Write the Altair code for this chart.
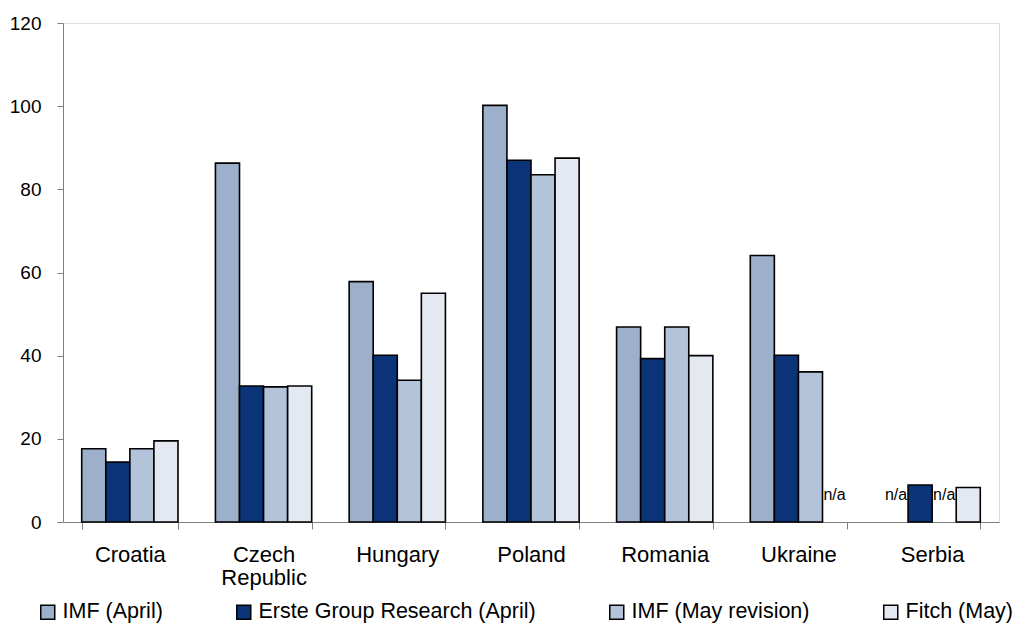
import altair as alt
import pandas as pd

countries = ["Croatia", "Czech Republic", "Hungary", "Poland", "Romania", "Ukraine", "Serbia"]
series = ["IMF (April)", "Erste Group Research (April)", "IMF (May revision)", "Fitch (May)"]
imf_april = [17.6, 86.3, 57.8, 100.2, 46.9, 64.1, None]
erste_april = [14.4, 32.7, 40.1, 87.0, 39.3, 40.1, 8.9]
imf_may = [17.6, 32.5, 34.1, 83.5, 46.9, 36.1, None]
fitch_may = [19.5, 32.7, 55.0, 87.5, 40.0, None, 8.3]
colors = ["#9DB0CB", "#0B3478", "#B3C3D9", "#E3E8F1"]
na_y = 6.5

rows = []
for s, vals in zip(series, [imf_april, erste_april, imf_may, fitch_may]):
    for c, v in zip(countries, vals):
        rows.append({"Country": c, "Series": s, "Value": v, "na": v is None})
df = pd.DataFrame(rows)

font = "Liberation Sans"

x_enc = alt.X("Country:N", sort=countries,
              scale=alt.Scale(paddingInner=0.28, paddingOuter=0.14),
              axis=alt.Axis(title=None, labelAngle=0, tickBand="extent", tickSize=7,
                            labelFont=font, labelFontSize=22, labelColor="black",
                            labelPadding=15, domainColor="#808080", tickColor="#808080",
                            labelExpr="datum.label == 'Czech Republic' ? ['Czech', 'Republic'] : datum.label",
                            labelLineHeight=23))
off_enc = alt.XOffset("Series:N", sort=series, scale=alt.Scale(domain=series))

bars = alt.Chart(df).transform_filter("datum.Value != null").mark_bar(
    stroke="black", strokeWidth=1.6
).encode(
    x=x_enc,
    xOffset=off_enc,
    y=alt.Y("Value:Q", scale=alt.Scale(domain=[0, 120], nice=False),
            axis=alt.Axis(title=None, values=[0, 20, 40, 60, 80, 100, 120], grid=False,
                          labelFont=font, labelFontSize=19, labelColor="black",
                          tickSize=6, labelPadding=16, domainColor="#808080", tickColor="#808080")),
    color=alt.Color("Series:N", sort=series,
                    scale=alt.Scale(domain=series, range=colors),
                    legend=alt.Legend(title=None, orient="none", direction="horizontal",
                                      legendX=-26, legendY=578, columns=4, columnPadding=70,
                                      symbolType="square", symbolSize=196,
                                      symbolStrokeColor="black", symbolStrokeWidth=1.5,
                                      symbolOpacity=1, labelFont=font, labelFontSize=21.5,
                                      labelColor="black", labelOffset=4, labelLimit=0)),
)

na_text = alt.Chart(df).transform_filter("datum.na").transform_calculate(
    ny=str(na_y), lbl="'n/a'"
).mark_text(font=font, fontSize=16, color="black").encode(
    x=alt.X("Country:N", sort=countries),
    xOffset=off_enc,
    y=alt.Y("ny:Q"),
    text="lbl:N",
)

chart = alt.layer(bars, na_text).properties(
    width=936, height=499,
    padding={"left": 63, "top": 23, "right": 18, "bottom": 103},
    autosize=alt.AutoSizeParams(type="none"),
).configure_view(stroke=None).configure(background="white")

chart.save("out.html", embed_options={"renderer": "svg", "actions": False})
